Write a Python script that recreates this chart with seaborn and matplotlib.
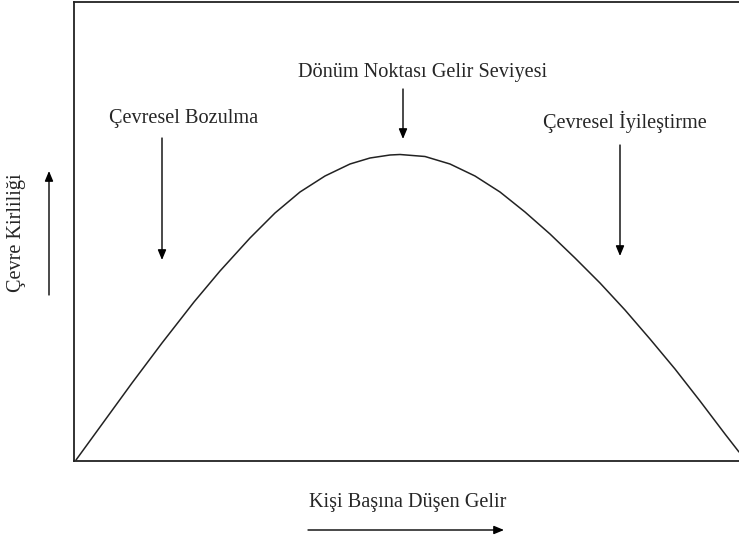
import matplotlib
matplotlib.use("Agg")
import matplotlib.pyplot as plt
import seaborn as sns
import pandas as pd

# curve (income vs pollution, arbitrary units)
gelir = [2, 58, 88, 120, 146, 176, 201, 226, 251, 276, 296, 316, 326,
         351, 376, 401, 426, 451, 476, 501, 526, 551, 576, 601, 626, 651, 665]
kirlilik = [1, 78, 118, 159, 190, 223, 248, 269, 285, 297, 303, 306, 306.5,
            304.5, 297, 285, 269, 249, 227, 203, 178, 151, 122, 92, 60, 27, 9]

labels = ["Dönüm Noktası Gelir Seviyesi", "Çevresel Bozulma", "Çevresel İyileştirme"]
xlabel = "Kişi Başına Düşen Gelir"
ylabel = "Çevre Kirliliği"

sns.set_style("white")
plt.rcParams['font.family'] = ['Liberation Serif', 'DejaVu Serif']

W, H = 739, 542
fig = plt.figure(figsize=(W / 100, H / 100), dpi=100)
ax = fig.add_axes([74 / W, (H - 461) / H, (W - 74) / W, (461 - 2) / H])

df = pd.DataFrame({'gelir': gelir, 'kirlilik': kirlilik})
sns.lineplot(data=df, x='gelir', y='kirlilik', ax=ax, color='#222222', linewidth=1.1,
             sort=False, solid_joinstyle='round')

ax.set_xlim(0, 665)
ax.set_ylim(0, 459)
ax.set_xticks([])
ax.set_yticks([])
ax.set_xlabel('')
ax.set_ylabel('')
for s in ['left', 'bottom', 'top']:
    ax.spines[s].set_color('#222222')
    ax.spines[s].set_linewidth(1.3)
ax.spines['right'].set_visible(False)

fs = 14.6
def fp(x, y):
    # image pixel (top-left origin) -> figure pixels
    return (x, H - y)

arrow = dict(arrowstyle='-|>,head_length=0.6,head_width=0.25', color='black', lw=1.0,
             shrinkA=0, shrinkB=0)

# annotation texts
fig.text(423 / W, (H - 73) / H, labels[0], ha='center', va='center', fontsize=fs)
fig.text(184 / W, (H - 118) / H, labels[1], ha='center', va='center', fontsize=fs)
fig.text(625 / W, (H - 122) / H, labels[2], ha='center', va='center', fontsize=fs)

for x, y0, y1 in [(403, 89, 139), (162, 138, 260), (620, 145, 256)]:
    ax.annotate('', xy=fp(x, y1), xytext=fp(x, y0), xycoords='figure pixels',
                textcoords='figure pixels', arrowprops=arrow, annotation_clip=False)

# axis captions with arrows
fig.text(408 / W, (H - 503) / H, xlabel, ha='center', va='center', fontsize=fs)
ax.annotate('', xy=fp(504, 530), xytext=fp(308, 530), xycoords='figure pixels',
            textcoords='figure pixels', arrowprops=arrow, annotation_clip=False)
fig.text(17 / W, (H - 233) / H, ylabel, ha='center', va='center', rotation=90, fontsize=fs)
ax.annotate('', xy=fp(49, 171), xytext=fp(49, 295), xycoords='figure pixels',
            textcoords='figure pixels', arrowprops=arrow, annotation_clip=False)

fig.savefig('out.png', dpi=100, facecolor='white')
